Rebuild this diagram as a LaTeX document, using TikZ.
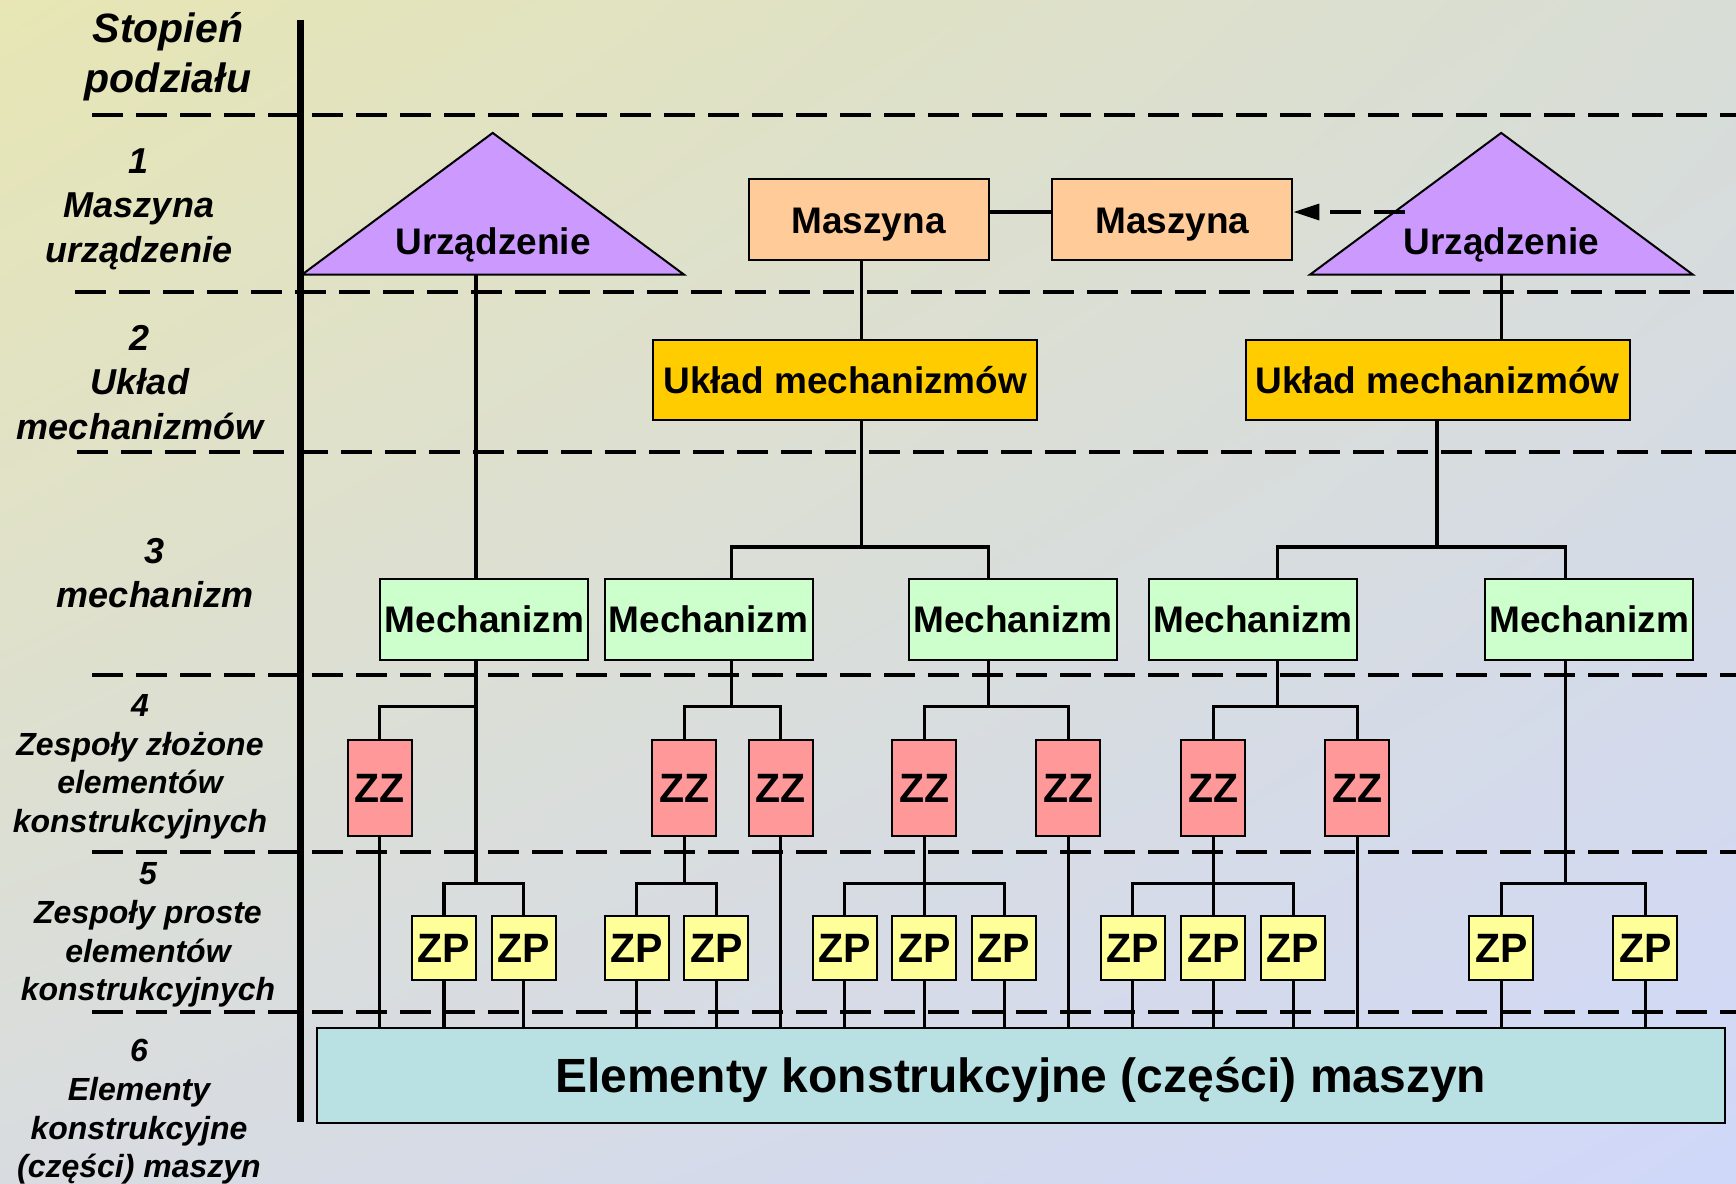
\documentclass[tikz,border=0pt]{standalone}
\usepackage{fontspec}
\setmainfont{Liberation Sans}
\usetikzlibrary{arrows.meta,shadings}
\definecolor{triFill}{RGB}{204,153,255}
\definecolor{masFill}{RGB}{255,204,153}
\definecolor{ukFill}{RGB}{255,204,0}
\definecolor{mechFill}{RGB}{204,255,204}
\definecolor{zzFill}{RGB}{255,153,153}
\definecolor{zpFill}{RGB}{255,255,153}
\definecolor{botFill}{RGB}{185,224,226}
\definecolor{bgTL}{RGB}{231,230,180}
\definecolor{bgTR}{RGB}{216,221,214}
\definecolor{bgBL}{RGB}{216,220,224}
\definecolor{bgBR}{RGB}{208,216,250}
\begin{document}
\begin{tikzpicture}[x=0.5pt,y=-0.5pt,
  box/.style={draw=black, line width=1pt, inner sep=0pt, text height=13.25pt, text depth=0pt, font=\bfseries\fontsize{18.5}{22}\selectfont},
  masbox/.style={box, fill=masFill, minimum width=120pt, minimum height=40.5pt},
  ukbox/.style={box, fill=ukFill, minimum width=192pt, minimum height=40pt},
  mechbox/.style={box, fill=mechFill, minimum width=104pt, minimum height=40.5pt},
  zzbox/.style={box, fill=zzFill, minimum width=32pt, minimum height=48pt, text height=14.7pt, font=\bfseries\fontsize{20.5}{24}\selectfont},
  zpbox/.style={box, fill=zpFill, minimum width=32pt, minimum height=32pt, text height=14.7pt, font=\bfseries\fontsize{20.5}{24}\selectfont},
  botbox/.style={box, fill=botFill, minimum width=704pt, minimum height=47.5pt, text height=17.2pt, font=\bfseries\fontsize{24}{28}\selectfont},
  tribox/.style={draw=black, line width=1pt, fill=triFill, line join=miter},
  tritext/.style={inner sep=0pt, text height=13.25pt, text depth=0pt, font=\bfseries\fontsize{18.5}{22}\selectfont},
  lab/.style={align=center, inner sep=0pt, font=\bfseries\itshape\fontsize{18}{22.1}\selectfont},
  labsmall/.style={align=center, inner sep=0pt, font=\bfseries\itshape\fontsize{16}{19.3}\selectfont},
  labhead/.style={align=center, inner sep=0pt, font=\bfseries\itshape\fontsize{20.5}{24.9}\selectfont},
  dashline/.style={line width=1.6pt, dash pattern=on 15.5pt off 6.5pt},
  conn/.style={line width=1.6pt, line join=miter},
  axisline/.style={line width=3.5pt},
  linkline/.style={line width=2.3pt}
]
% background
\useasboundingbox (0,0) rectangle (1736,1184);
\shade[upper left=bgTL, upper right=bgTR, lower left=bgBL, lower right=bgBR] (0,0) rectangle (1736,1184);

% level separators
\coordinate (d1a) at (92,115);   \coordinate (d1b) at (1736,115);
\coordinate (d2a) at (75,292);   \coordinate (d2b) at (1736,292);
\coordinate (d3a) at (77,452);   \coordinate (d3b) at (1736,452);
\coordinate (d4a) at (92,675);   \coordinate (d4b) at (1736,675);
\coordinate (d5a) at (92,852);   \coordinate (d5b) at (1736,852);
\coordinate (d6a) at (92,1012);  \coordinate (d6b) at (1736,1012);
\foreach \i in {1,...,6} {\draw[dashline] (d\i a) -- (d\i b);}

% axis
\coordinate (axTop) at (300,20);
\coordinate (axBot) at (300,1122);
\draw[axisline] (axTop) -- (axBot);

% left labels
\node[labhead] (lab0) at (168,56.5) {Stopień\\podziału};
\node[lab] (lab1) at (139,209.2) {1\\Maszyna\\urządzenie};
\node[lab] (lab2) at (140,382.4) {2\\Układ\\mechanizmów};
\node[lab] (lab3) at (155,573.4) {3\\mechanizm};
\node[labsmall] (lab4) at (140,766.6) {4\\Zespoły złożone\\elementów\\konstrukcyjnych};
\node[labsmall] (lab5) at (148,935) {5\\Zespoły proste\\elementów\\konstrukcyjnych};
\node[labsmall] (lab6) at (139,1112) {6\\Elementy\\konstrukcyjne\\(części) maszyn};

% triangles
\coordinate (t1l) at (302,274.6); \coordinate (t1a) at (492.7,132.9); \coordinate (t1r) at (684,274.6);
\draw[tribox] (t1l) -- (t1a) -- (t1r) -- cycle;
\node[tritext] (tri1) at (493,241.5) {Urządzenie};
\coordinate (t2l) at (1310,274.6); \coordinate (t2a) at (1501.2,132.9); \coordinate (t2r) at (1692.8,274.6);
\draw[tribox] (t2l) -- (t2a) -- (t2r) -- cycle;
\node[tritext] (tri2) at (1501.2,241.5) {Urządzenie};

% boxes
\node[masbox] (mas1) at (868.5,219.8) {Maszyna};
\node[masbox] (mas2) at (1172.4,219.8) {Maszyna};
\node[ukbox] (uk1) at (845.3,379.8) {Układ mechanizmów};
\node[ukbox] (uk2) at (1437.6,379.8) {Układ mechanizmów};
\node[mechbox] (m1) at (484.4,619.4) {Mechanizm};
\node[mechbox] (m2) at (708.5,619.4) {Mechanizm};
\node[mechbox] (m3) at (1013,619.4) {Mechanizm};
\node[mechbox] (m4) at (1253,619.4) {Mechanizm};
\node[mechbox] (m5) at (1589.3,619.4) {Mechanizm};
\foreach \n/\x in {1/379.7,2/684.2,3/780.5,4/924.4,5/1068.4,6/1213.4,7/1357.3}
  {\node[zzbox] (zz\n) at (\x,788) {ZZ};}
\foreach \n/\x in {1/444,2/523.7,3/636.6,4/716.3,5/844.7,6/924.4,7/1004.1,8/1132.6,9/1213.4,10/1293.1,11/1501.2,12/1645.2}
  {\node[zpbox] (zp\n) at (\x,948) {ZP};}
\node[botbox] (bot) at (1020.8,1075) {Elementy konstrukcyjne (części) maszyn};

% connector coordinates
\coordinate (t1b) at (476,274.6);
\coordinate (t2b) at (1501.2,274.6);
\coordinate (xu1) at (861.3,0);
\coordinate (xu2) at (1437,0);
\coordinate (xm1) at (476,0);
\coordinate (xm2) at (731.8,0);
\coordinate (xm3) at (988.6,0);
\coordinate (xm4) at (1277.6,0);
\coordinate (xm5) at (1565.4,0);
\coordinate (ubus) at (0,547);
\coordinate (zzbus) at (0,706.3);
\coordinate (zpbus) at (0,883.5);
\coordinate (lnk) at (0,212);

% level 1 -> 2
\draw[linkline] (mas1.east |- lnk) -- (mas2.west |- lnk);
\draw[conn] (mas1.south -| xu1) -- (uk1.north -| xu1);
\draw[conn] (t2b) -- (uk2.north -| t2b);
% level 2 -> 3
\draw[conn] (uk1.south -| xu1) -- (xu1 |- ubus);
\draw[conn] (m2.north -| xm2) -- (xm2 |- ubus) -- (xm3 |- ubus) -- (m3.north -| xm3);
\draw[conn] (uk2.south -| xu2) -- (xu2 |- ubus);
\draw[conn] (m4.north -| xm4) -- (xm4 |- ubus) -- (xm5 |- ubus) -- (m5.north -| xm5);
\draw[conn] (t1b) -- (m1.north -| t1b);
% level 3 -> 4/5
\draw[conn] (m1.south -| xm1) -- (xm1 |- zpbus);
\draw[conn] (zz1.north) -- (zz1.north |- zzbus) -- (xm1 |- zzbus);
\draw[conn] (zp1.north) -- (zp1.north |- zpbus) -- (zp2.north |- zpbus) -- (zp2.north);
\draw[conn] (m2.south -| xm2) -- (xm2 |- zzbus);
\draw[conn] (zz2.north) -- (zz2.north |- zzbus) -- (zz3.north |- zzbus) -- (zz3.north);
\draw[conn] (m3.south -| xm3) -- (xm3 |- zzbus);
\draw[conn] (zz4.north) -- (zz4.north |- zzbus) -- (zz5.north |- zzbus) -- (zz5.north);
\draw[conn] (m4.south -| xm4) -- (xm4 |- zzbus);
\draw[conn] (zz6.north) -- (zz6.north |- zzbus) -- (zz7.north |- zzbus) -- (zz7.north);
\draw[conn] (m5.south -| xm5) -- (xm5 |- zpbus);
\draw[conn] (zp11.north) -- (zp11.north |- zpbus) -- (zp12.north |- zpbus) -- (zp12.north);
% level 4 -> 5
\draw[conn] (zz2.south) -- (zz2.south |- zpbus);
\draw[conn] (zp3.north) -- (zp3.north |- zpbus) -- (zp4.north |- zpbus) -- (zp4.north);
\draw[conn] (zz4.south) -- (zp6.north);
\draw[conn] (zp5.north) -- (zp5.north |- zpbus) -- (zp7.north |- zpbus) -- (zp7.north);
\draw[conn] (zz6.south) -- (zp9.north);
\draw[conn] (zp8.north) -- (zp8.north |- zpbus) -- (zp10.north |- zpbus) -- (zp10.north);
% down to parts
\foreach \n in {1,3,5,7} {\draw[conn] (zz\n.south) -- (zz\n.south |- bot.north);}
\foreach \n in {1,...,12} {\draw[conn] (zp\n.south) -- (zp\n.south |- bot.north);}

% dashed arrow
\coordinate (arrS) at (1405,212);
\draw[dashline, -{Triangle[length=13pt,width=8pt]}] (arrS) -- (mas2.east |- arrS);
\end{tikzpicture}
\end{document}
